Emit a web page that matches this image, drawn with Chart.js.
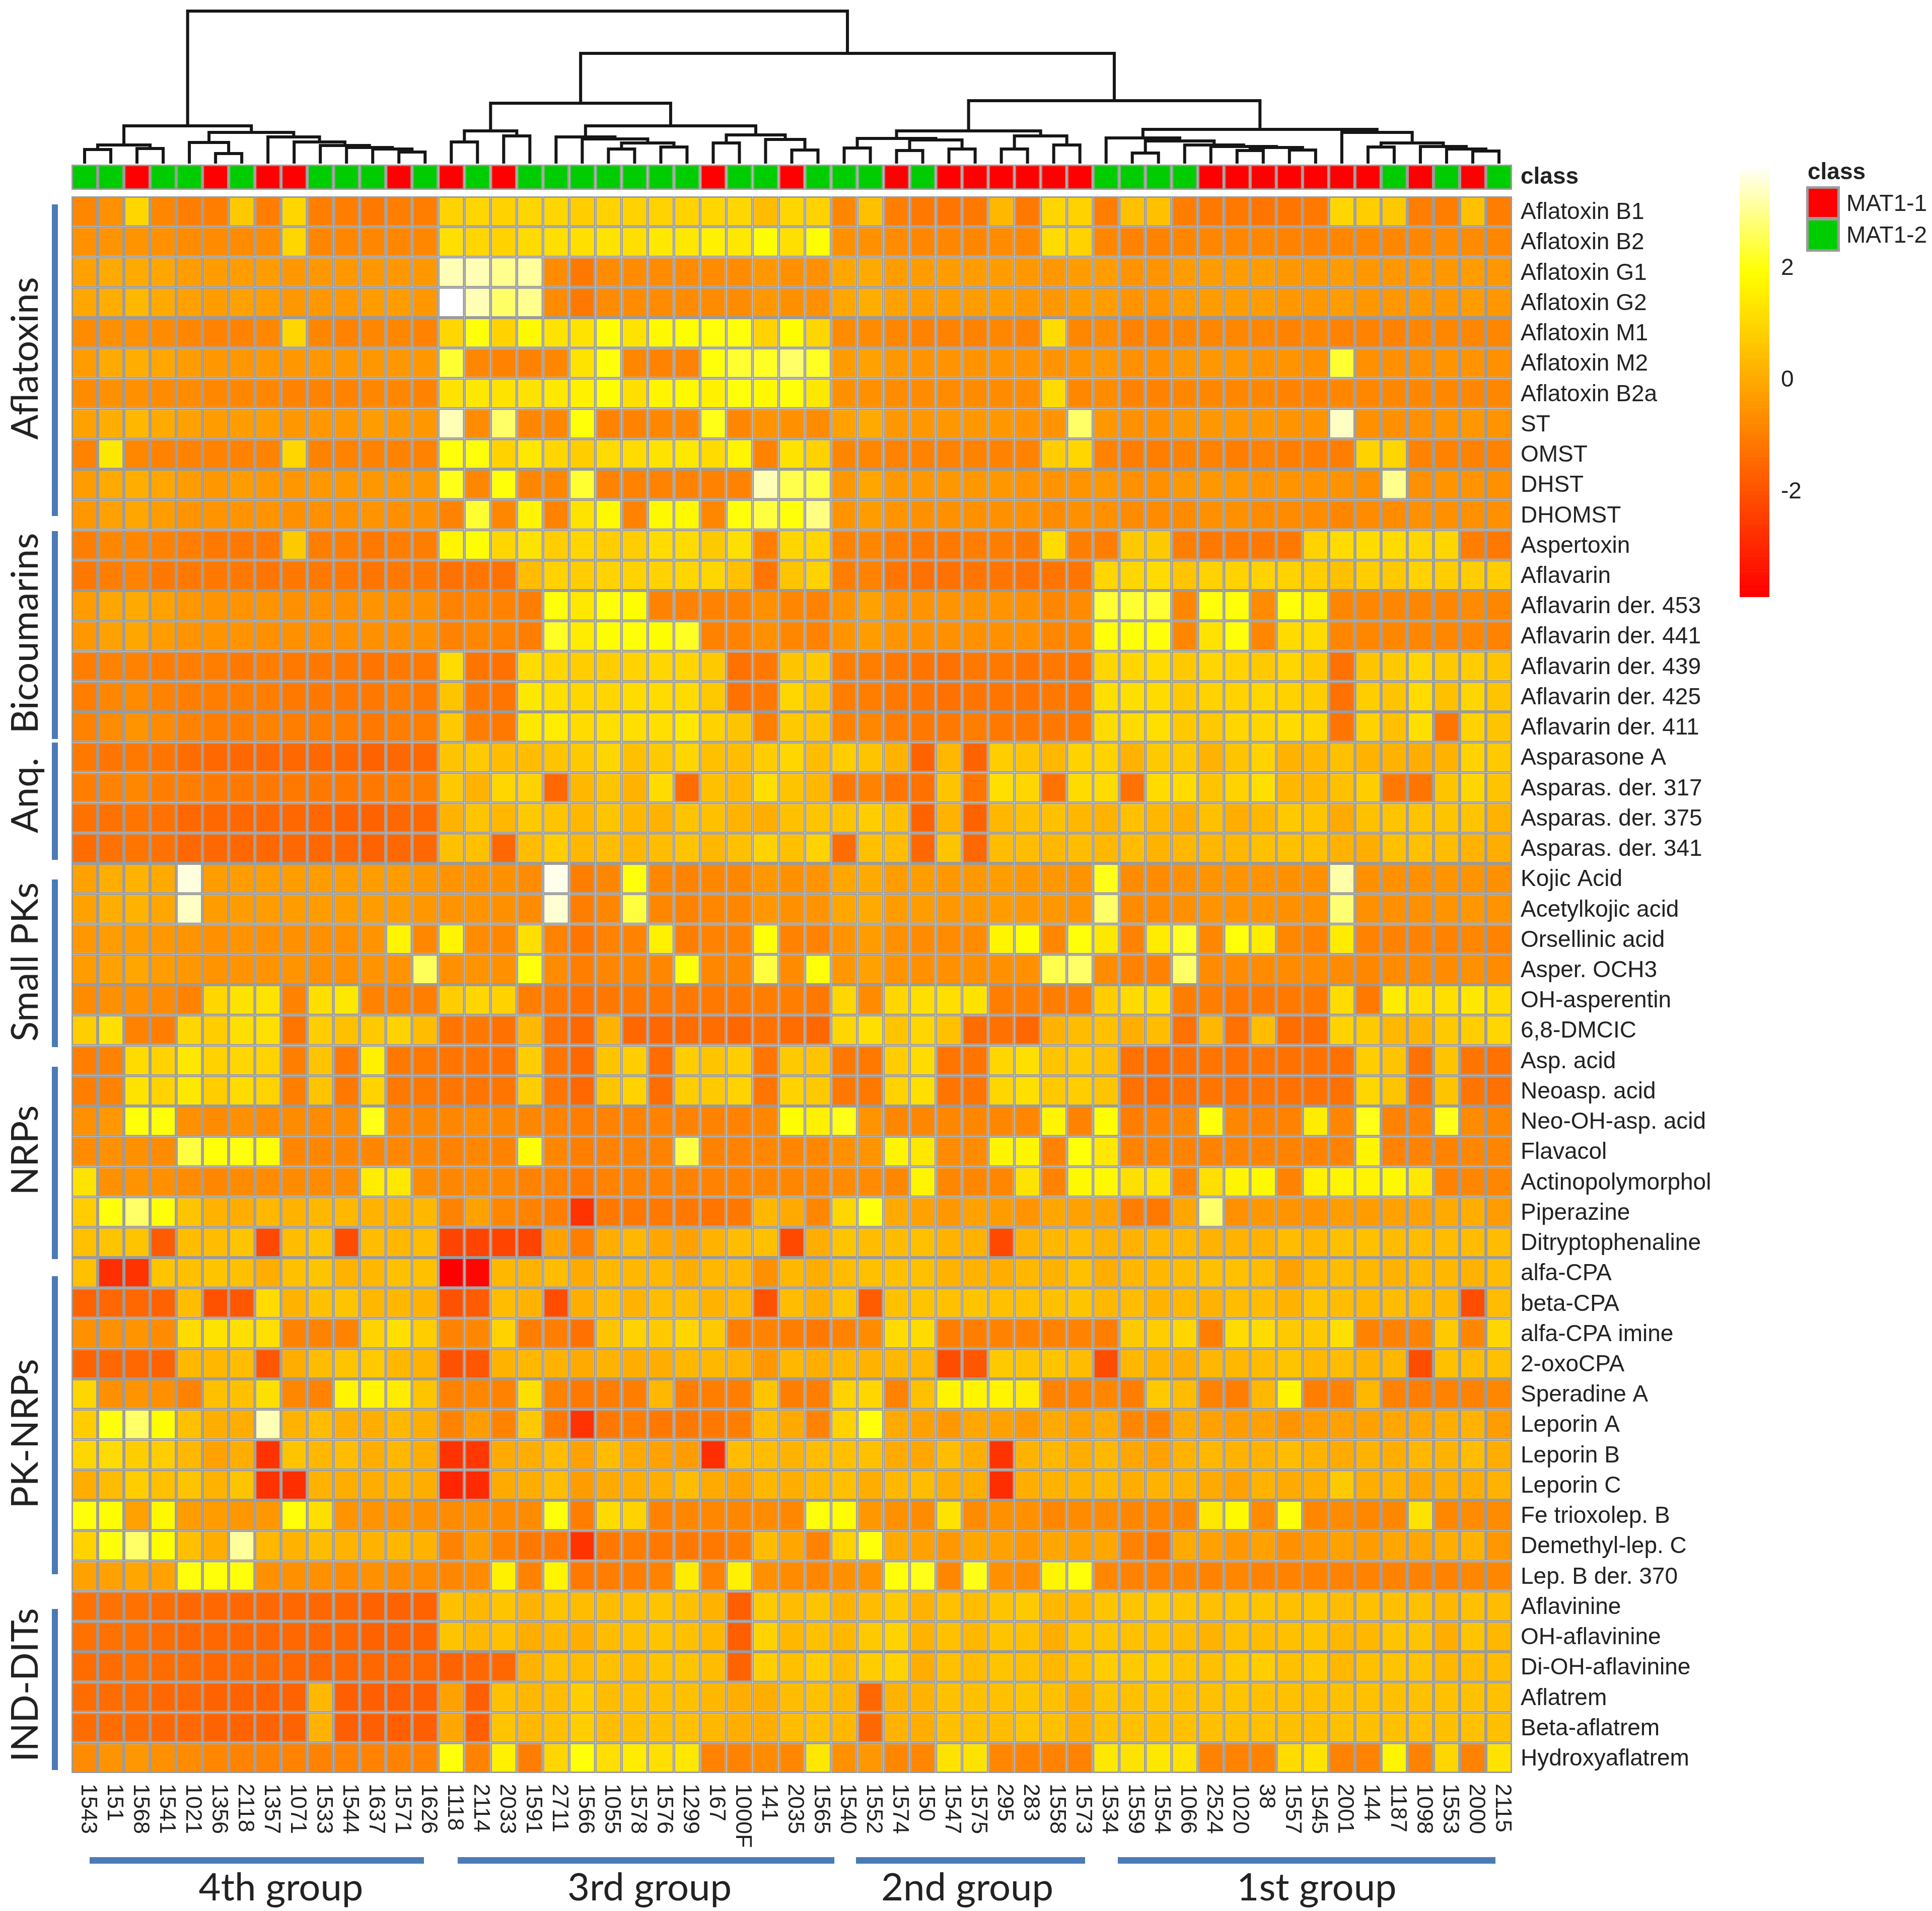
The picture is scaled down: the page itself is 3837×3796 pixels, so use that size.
<!DOCTYPE html>
<html>
<head>
<meta charset="utf-8">
<title>Metabolite heatmap</title>
<script src="https://cdn.jsdelivr.net/npm/chart.js@4"></script>
<style>
html, body { margin: 0; padding: 0; background: #fff; }
body { width: 3837px; height: 3796px; position: relative; overflow: hidden; font-family: "Liberation Sans", sans-serif; color: #222; }
canvas { position: absolute; }
.txt { position: absolute; white-space: nowrap; }
.box { position: absolute; box-sizing: border-box; }
</style>
</head>
<body>
<canvas id="dendro"></canvas>
<canvas id="classBar"></canvas>
<canvas id="heat"></canvas>
<canvas id="scaleBar"></canvas>
<script>
var colLabels = ['1543','151','1568','1541','1021','1356','2118','1357','1071','1533','1544','1637','1571','1626',
    '1118','2114','2033','1591','2711','1566','1055','1578','1576','1299','167','1000F','141','2035','1565',
    '1540','1552','1574','150','1547','1575','295','283','1558','1573',
    '1534','1559','1554','1066','2524','1020','38','1557','1545','2001','144','1187','1098','1553','2000','2115'];

var classes = [2,2,1,2,2,1,2,1,1,2,2,2,1,2, 1,2,1,2,2,2,2,2,2,2,1,2,2,1,2, 2,2,1,2,1,1,1,1,1,1, 2,2,2,2,1,1,1,1,1,1,1,2,1,2,1,2];
var classNames = ['MAT1-1','MAT1-2'];

var rowLabels = ['Aflatoxin B1','Aflatoxin B2','Aflatoxin G1','Aflatoxin G2','Aflatoxin M1','Aflatoxin M2','Aflatoxin B2a','ST','OMST','DHST','DHOMST',
    'Aspertoxin','Aflavarin','Aflavarin der. 453','Aflavarin der. 441','Aflavarin der. 439','Aflavarin der. 425','Aflavarin der. 411',
    'Asparasone A','Asparas. der. 317','Asparas. der. 375','Asparas. der. 341',
    'Kojic Acid','Acetylkojic acid','Orsellinic acid','Asper. OCH3','OH-asperentin','6,8-DMCIC',
    'Asp. acid','Neoasp. acid','Neo-OH-asp. acid','Flavacol','Actinopolymorphol','Piperazine','Ditryptophenaline',
    'alfa-CPA','beta-CPA','alfa-CPA imine','2-oxoCPA','Speradine A','Leporin A','Leporin B','Leporin C','Fe trioxolep. B','Demethyl-lep. C','Lep. B der. 370',
    'Aflavinine','OH-aflavinine','Di-OH-aflavinine','Aflatrem','Beta-aflatrem','Hydroxyaflatrem'];

var aflatoxinRows = [
    [-.8,-.6,1,-.8,-1,-1,.7,-1,1,-1,-1,-1.1,-1,-1,.9,1,.9,1, 1,.8,.9,.9,.9,.9,1,1,.4,1,.9,-.8,.5,-1,-1.1,-1.2,-1.1,.3,-1.1, 1,.9,-1,.5,.5,-1,-1.1,-1.1,-1.2,-1.2,-1.1,1,.8,.7,-1,-1,.5,-1],
    [-.6,-.5,-.5,-.6,-.7,-.7,-.7,-.7,1,-.8,-.8,-.8,-.8,-.8,1.2,1,.9,1.1, 1.2,1.2,1.3,1.2,1.4,1.4,1.6,1.4,1.9,1.2,1.9,-.6,-.6,-.7,-.8,-.8,-.8,-.7,-.8, 1.1,.9,-.8,-.9,-.9,-.8,-.8,-.8,-.8,-.9,-.9,-.8,-.8,-.8,-.8,-.7,-.7,-.8],
    [-.2,0,0,-.1,-.3,-.3,-.3,-.3,-.4,-.4,-.4,-.4,-.4,-.4,3.3,3.3,3,3.1, -.7,-1.1,-.7,-.7,-.7,-.7,-.7,-.7,-.4,-.6,-.6,-.1,0,-.3,-.3,-.3,-.3,-.3,-.4, -.4,-.3,-.3,-.5,-.5,-.3,-.3,-.3,-.3,-.4,-.4,-.3,-.4,-.4,-.4,-.4,-.3,-.4],
    [-.1,.1,.3,0,-.2,-.3,-.2,-.3,-.4,-.4,-.4,-.3,-.3,-.4,3.85,3.3,2.7,3, -.7,-1.1,-.7,-.7,-.7,-.7,-.7,-.7,-.4,-.6,-.6,-.1,.1,-.2,-.3,-.3,-.3,-.3,-.4, -.4,-.3,-.3,-.5,-.5,-.3,-.3,-.3,-.3,-.4,-.4,-.3,-.4,-.4,-.4,-.4,-.3,-.4],
    [-.7,-.6,-.6,-.7,-.8,-.9,-.9,-.8,1,-.8,-.9,-.8,-.8,-.9,1,2,.9,1.8, 1.3,1.3,1.9,1.3,1.8,1.9,2,2,.9,1.9,1,-.7,-.7,-.8,-.9,-.9,-.9,-.8,-.9, 1.1,-.8,-.7,-.9,-.9,-.8,-.8,-.8,-.8,-.9,-.8,-.9,-.9,-.9,-.8,-.8,-.8,-.8],
    [-.3,0,.1,-.1,-.3,-.4,-.4,-.4,-.4,-.4,-.4,-.4,-.4,-.4,2.3,-.8,-.9,-.9, -.8,1.3,2,-.8,-.9,-.9,2,2.3,2.2,2.7,2.2,-.3,-.2,-.4,-.5,-.5,-.5,-.5,-.5, -.5,-.5,-.4,-.6,-.6,-.4,-.4,-.4,-.5,-.5,-.6,2.3,-.6,-.6,-.6,-.5,-.5,-.6],
    [-.7,-.6,-.6,-.7,-.7,-.8,-.8,-.8,-.9,-.9,-.9,-.8,-.8,-.9,1.3,1.4,1.3,1.3, 1.4,1.6,1.9,1.2,1.7,1.8,1.6,2,1.8,2,1.4,-.6,-.6,-.7,-.7,-.7,-.7,-.7,-.7, 1.1,-.8,-.7,-.9,-.9,-.8,-.8,-.8,-.8,-.9,-.9,-.8,-.8,-.8,-.8,-.8,-.8,-.8],
    [-.2,.1,.3,0,-.2,-.3,-.3,-.3,-.4,-.4,-.4,-.3,-.4,-.4,3.3,-.7,2.7,-.8, -.8,2,-.9,-.9,-.8,-.8,2.1,-.8,-.5,-.6,-.7,-.2,0,-.4,-.4,-.4,-.4,-.4,-.5, -.5,2.7,-.4,-.6,-.6,-.4,-.4,-.4,-.4,-.5,-.5,3.4,-.6,-.6,-.6,-.5,-.4,-.5],
    [-.9,1.4,-.8,-.9,-.9,-.9,-.9,-.9,1,-.9,-.9,-.9,-.9,-.9,2,2,.9,1.4, 1,.8,1.1,1.1,1.3,1.4,1.1,1.7,-.9,1.3,.9,-.8,-.8,-.9,-.9,-.9,-.9,-.9,-.9, .8,1,-.9,-1,-1,-.9,-.9,-1,-.9,-1,-1,-1,.9,1,-.9,-.9,-.9,-.9],
    [-.3,0,.1,-.1,-.3,-.4,-.3,-.4,-.4,-.4,-.4,-.4,-.4,-.4,2.1,-.8,2,-.8, -.8,2.3,-.9,-.9,-.9,-.9,-.9,-.9,3.3,2.5,2.4,-.4,-.1,-.4,-.4,-.4,-.4,-.4,-.5, -.5,-.5,-.4,-.6,-.6,-.4,-.4,-.4,-.5,-.5,-.5,-.5,-.6,3,-.6,-.5,-.5,-.6],
    [-.4,-.2,-.1,-.3,-.5,-.5,-.5,-.5,-.6,-.6,-.6,-.5,-.6,-.6,-.9,2.3,-.8,1.7, -.9,1.3,1.8,-.9,1.8,1.8,-.8,2,2.4,2,2.9,-.5,-.3,-.5,-.6,-.6,-.6,-.6,-.6, -.7,-.6,-.6,-.7,-.7,-.7,-.6,-.6,-.7,-.7,-.7,-.8,-.7,-.7,-.6,-.6,-.6,-.6]
];

var bicoumarinRows = [
    [-1,-.8,-.8,-.9,-1,-1.1,-1.1,-1.1,.7,-1,-1,-1.1,-1,-1,1.7,1.9,1,1.3, .8,1,.8,.8,1.1,1.1,.7,1.2,-1,1,1,-.9,-.8,-1,-1.1,-1.1,-1,-1,-1.1, 1.1,-1,-1,.7,.7,-1,-1.1,-1.1,-1.1,-1.1,.9,1.1,1.1,1.1,1,1,-1,-1.1],
    [-1.1,-1,-.9,-1.1,-1.1,-1.1,-1.1,-1.2,-1.1,-1.1,-1.1,-1.2,-1.1,-1.1,-1.3,-1.2,-1.3,.4, .9,.8,.9,.9,.9,1,1,.5,-1.2,.6,.9,-1,-.9,-1.2,-1.3,-1.3,-1.2,-1.2,-1.3, -1.2,-1.2,1,1,1.1,.6,.9,.9,.9,.9,.8,.5,.8,.7,.9,.8,.8,.8],
    [-.3,-.1,0,-.2,-.4,-.5,-.5,-.5,-.6,-.6,-.6,-.5,-.6,-.6,-.9,-.8,-.9,-1, 2,1.4,2,1.9,-.9,-.9,-.9,-.9,-.6,-.8,-.9,-.5,-.2,-.5,-.5,-.5,-.5,-.5,-.6, -.8,-.7,2.3,2.3,2.3,-.8,2,2,-.7,2,1.6,-.8,-.8,-.8,-.8,-.8,-.7,-.8],
    [-.4,-.2,-.1,-.3,-.5,-.5,-.5,-.6,-.6,-.6,-.6,-.6,-.6,-.6,-.9,-.8,-.9,-1, 2.2,1.5,1.9,2,1.9,2.2,-.9,-.9,-.6,-.8,-.9,-.5,-.3,-.5,-.6,-.6,-.6,-.6,-.6, -.8,-.8,2,2,2,-.8,1.3,2,-.8,1.1,1.1,-.8,-.8,-.8,-.8,-.8,-.8,-.9],
    [-1,-.9,-.9,-1,-1,-1,-1.1,-1,-1.1,-1.1,-1.1,-1.2,-1.1,-1.1,1.1,-1.2,-1.3,1.1, 1,.8,.8,.9,1,1,.7,-1.3,-1.1,.6,.7,-1,-1,-1.1,-1.2,-1.3,-1.1,-1.1,-1.2, -1.1,-1.2,1,1,1.1,.7,1,.9,.7,1,.7,-1.3,.6,.7,1,.7,.8,.6],
    [-1,-.8,-.7,-.9,-1,-1,-1,-1,-1.1,-1.1,-1.1,-1.1,-1,-1.1,.6,-1.1,-1.2,1.4, 1.2,1,1,1.1,1.1,1.1,.7,-1.3,-1.1,1,.6,-1,-1,-1.1,-1.2,-1.3,-1.2,-1.2,-1.2, -1.1,-1.2,1.2,1.2,1.1,.7,.9,.9,1,.9,.8,-1.3,.8,.6,1.1,.5,1,.6],
    [-.9,-.7,-.5,-.7,-.9,-1,-1,-.9,-1,-1,-1,-1.1,-1,-1,.7,-1,-1.1,1.4, 1.5,1.1,1.2,1.2,1.2,1.4,.9,.6,-1,.7,.6,-.9,-.8,-1,-1.1,-1.1,-1,-1.1,-1.1, -1.1,-1.1,1.1,1.1,1.2,.7,.7,1,1,1.1,1,-1.2,.9,.5,1.2,-1.2,.9,.6]
];

var anthraquinoneRows = [
    [-1.1,-1.2,-1.1,-1.2,-1.4,-1.5,-1.5,-1.5,-1.5,-1.5,-1.5,-1.6,-1.5,-1.5,.6,.7,.4,.4, .6,.7,1,.5,.7,1,.5,.4,.8,1,.4,.8,.6,.2,-1.6,.3,-1.6,.8,.6, .3,.9,.9,.2,.7,.7,.2,.6,.9,.2,.3,.5,.2,.2,.1,.2,.9,.7],
    [-1,-.9,-.8,-1,-1,-1.1,-1.1,-1.1,-1.1,-1.1,-1.1,-1.1,-1,-1,.7,.2,1,.9, -1.5,.3,.6,.2,1.1,-1.4,.5,.3,1.2,.6,.3,-1.1,-.9,-1.2,-1.3,.6,-1.2,1.2,1, -1.3,1.1,1.1,-1.3,1.1,1.1,.6,.9,1.2,.3,.3,.5,.8,-1.1,-1.2,.6,1,.6],
    [-1.3,-1.3,-1.2,-1.3,-1.5,-1.5,-1.5,-1.5,-1.5,-1.5,-1.6,-1.6,-1.5,-1.5,.2,.6,.3,.7, .6,.3,.6,.3,.2,.6,.5,.2,.1,.5,.6,.6,.8,.5,-1.6,.2,-1.6,.3,.5, .5,.3,.2,.5,.3,.1,.5,.1,.3,.7,.6,0,.5,.6,.6,.6,.6,.2],
    [-1.4,-1.3,-1.2,-1.3,-1.5,-1.5,-1.5,-1.5,-1.5,-1.5,-1.5,-1.6,-1.5,-1.5,.5,.5,-1.5,.4, .8,.3,.4,.3,.4,.6,.3,.5,.9,.5,.9,-1.4,.5,.4,-1.5,.6,-1.5,.4,.4, .3,.4,.3,.4,.2,.3,.3,.3,.5,.5,.5,.2,.1,.5,.5,.4,.2,.1]
];

var smallPkRows = [
    [-.2,.1,.2,0,3.6,-.3,-.3,-.3,-.3,-.3,-.3,-.3,-.3,-.4,-.5,-.5,-.6,-.7, 3.7,-1,-.8,2,-.8,-.9,-.8,-.8,-.4,-.6,-.5,-.1,0,-.3,-.3,-.4,-.4,-.3,-.4, -.4,-.5,2.1,-.7,-.7,-.6,-.5,-.5,-.5,-.6,-.6,3.2,-.6,-.6,-.6,-.5,-.5,-.6],
    [-.2,.1,.2,-.1,3.4,-.3,-.3,-.3,-.3,-.3,-.3,-.3,-.3,-.4,-.5,-.5,-.6,-.7, 3.5,-1,-.8,2.4,-.8,-.9,-.8,-.8,-.4,-.6,-.5,-.1,0,-.3,-.3,-.4,-.4,-.3,-.4, -.4,-.5,2.7,-.7,-.7,-.6,-.5,-.5,-.5,-.6,-.6,2.8,-.6,-.6,-.6,-.5,-.4,-.5],
    [-.4,-.3,-.3,-.4,-.5,-.6,-.5,-.6,-.6,-.6,-.6,-.5,1.7,-.8,1.7,-.7,-.8,1.2, -.9,-1.2,-.9,-.9,1.6,-1,-.9,-.9,2,-.9,-.9,-.5,-.3,-.6,-.7,-.7,-.7,1.7,1.9, -.8,2,1.4,-.9,1.5,2.2,-.8,2,1.5,-.8,-.9,1.5,-.9,-.9,-.9,-.9,-.8,-.9],
    [-.3,-.2,-.1,-.3,-.4,-.5,-.5,-.5,-.5,-.6,-.6,-.5,-.5,2.6,-.6,-.5,-.6,2, -.7,-1,-.8,-.8,-.8,2,-.8,-.8,2.4,-.7,2,-.4,-.2,-.5,-.6,-.6,-.6,-.6,-.6, 2.5,2.7,-.7,-.9,-.9,2.7,-.7,-.7,-.7,-.7,-.7,-.7,-.8,-.7,-.7,-.7,-.6,-.7],
    [-.7,-.6,-.6,-.7,-.9,1,1.3,1.3,-.9,1.2,1.4,-.9,-.9,-1,.8,1,.9,-1, -1.1,-1.3,-1.1,-1.1,-1.1,-1.1,-1.1,-1.1,-1,-1,-1.1,1,-.7,1,1.2,1.2,1.3,-1,-1, -1,-1,.8,1.1,1.1,-1,-1,-1.1,-1.1,-1.1,-1.1,1.1,-1.1,1.5,1.2,1.2,1.4,1.1],
    [.8,1.2,-.9,-1,1,.8,1.2,1.2,-1.2,.8,.5,.7,.9,.4,-1.2,-1.1,-1.3,.3, -1.3,-1.5,.2,-1.5,-1.5,-1.4,-1.4,-1.5,-1.3,-1.4,-1.5,1,1.2,.6,1,.5,-1.4,-1.3,-1.5, .2,.4,.5,.1,.4,-1.3,.3,-1.3,.4,-1.4,-1.4,.9,.7,.3,.2,.7,.8,1]
];

var nrpRows = [
    [-1,-.9,1.1,.9,1.4,.9,1,.9,-1,.6,-1.1,1.6,-1.1,-1.1,-1.2,-1.2,-1.3,.8, -1.2,-1.5,.6,.8,-1.4,.8,.6,.8,-1.2,.7,.6,-1.1,-1.1,.8,1.1,-1.2,-1.2,1,1.2, .6,.7,.5,-1.3,-1.4,-1.3,-1.2,-1.3,-1.2,-1.3,-1.3,-1.3,.8,.6,-1.3,.6,-1.2,-1.3],
    [-1,-.9,1.3,.9,1.4,.8,1.1,.9,-1,.6,-1.1,.9,-1.1,-1.1,-1.2,-1.2,-1.2,.8, -1.2,-1.5,.6,.9,-1.4,.8,.7,.9,-1.2,.9,.7,-1.1,-1.1,.9,1.2,-1.2,-1.2,1,1.2, .7,.8,.6,-1.3,-1.4,-1.3,-1.2,-1.3,-1.2,-1.3,-1.3,-1.3,1,.6,-1.3,.6,-1.2,-1.3],
    [-.6,-.4,2,2,-.6,-.7,-.6,-.7,-.7,-.7,-.7,2.1,-.8,-.8,-.8,-.7,-.8,-.8, -.9,-1,-.9,-.9,-.9,-.9,-.9,-.9,-.8,1.9,1.6,2.1,-.5,-.8,-.8,-.8,-.8,-.8,-.8, 1.7,-.9,1.9,-1,-.9,-.8,2,-.8,-.9,-.9,1.5,-.8,2.1,-.9,-.9,2.1,-.7,-.8],
    [-.7,-.6,-.6,-.7,2.4,2,2,1.9,-.8,-.8,-.8,-.8,-.8,-.8,-.9,-.8,-.9,1.9, -.8,-1,-.9,-.9,-.9,2.4,-.9,-.9,-.8,-.8,-.8,-.6,-.5,1.7,1.4,-.7,-.7,1.7,1.7, -.9,2,1.4,-.9,-.9,-.9,-.9,-.9,-.9,-.9,-.9,-.9,1.7,-.9,-.9,-.9,-.8,-.8],
    [1.3,-.6,-.5,-.6,-.7,-.8,-.7,-.7,-.7,-.7,-.7,1.5,1.4,-.7,-.8,-.7,-.8,-.9, -.9,-1.1,-.9,-.9,-.9,-.9,-.9,-.9,-.8,-.8,-.8,-.7,-.7,-.8,1.7,-.8,-.8,-.8,1.3, -.9,1.8,1.8,1.2,1.3,-.9,1.2,1.7,1.8,-.9,1.6,1.7,1.7,1.8,1.4,-.9,-.8,-.8],
    [.8,2,2.7,2,.6,.2,.1,.3,.2,.3,.3,.2,.2,.3,-.9,-.2,-.8,-.9, -1,-2.7,-1.1,-1.1,-1.1,-1.1,-1.2,-1.1,.3,0,-.8,1,2,0,-.2,-.4,-.2,-.3,-.5, -.1,-.2,-.2,-1,-1.1,-.1,2.7,-.6,-.4,-.5,-.5,-.3,-.3,-.2,-.2,0,.1,-.3],
    [.5,.6,.6,-1.8,.4,.4,.6,-2.2,.4,.6,-2.1,.4,.3,.4,-2.3,-2.3,-2.3,-2.3, -.2,-1,.1,.3,-.1,-.2,.2,.4,.5,-2.2,.1,.6,.4,.4,.5,.2,.2,-2.2,.2, .3,.4,.2,.2,.3,.3,.2,.2,.2,.4,.3,.5,.5,.4,.4,.4,.4,.4]
];

var pkNrpRows = [
    [.5,-2.8,-2.7,.6,.5,.6,.5,.1,.5,.6,.2,.3,.5,.5,-3.85,-3.7,.3,.2, .4,0,.3,.3,.3,.1,.3,.3,-.6,.3,.1,.4,.5,.5,.5,.2,.2,.1,.3, .2,.5,.1,.3,.3,.4,.5,.5,.4,-.2,.3,.4,.3,.2,.3,.3,.2,.4],
    [-1.6,-1.5,-1.5,-1.6,.4,-2,-1.9,1.1,.2,.5,.6,.3,.3,.2,-2,-1.8,.4,.2, -2.1,.1,.4,.2,.4,.4,.2,.3,-2,.4,.1,.6,-1.8,.5,.6,.5,.6,.5,.5, .5,.6,.3,.4,.2,.3,.2,.4,.4,.2,.6,.4,.3,.4,.3,.3,-2.1,.4],
    [-.6,-.6,-.5,-.7,1.1,1.3,1.2,1.2,-.9,-.9,-.9,.9,1.2,.8,-.9,-.8,.9,-1, -1,-1.3,.6,.9,.7,1,.7,-1,-.9,-1,-1.1,-.9,-.7,1.1,1.1,-1,-1,-.9,-.9, -.9,-.9,-1,.7,.8,1,-1,1.1,1.1,.7,.7,1.2,-.9,-.9,-.9,.7,-.8,1],
    [-1.6,-1.5,-1.5,-1.6,.3,.3,.4,-1.9,.1,.4,.6,.7,.3,.2,-2,-1.9,.2,.3, .2,0,.2,.1,.1,.3,.3,.2,-.4,.3,.1,.3,.2,.3,.3,-2.1,-1.9,.7,.6, .6,.4,-2.1,.3,.2,.1,.3,.3,.4,.6,.3,.4,.2,.3,-2.1,.5,.4,.5],
    [1,-.6,-.5,-.6,-.9,.5,.5,1.2,-.8,-.9,1.7,1.7,1.5,.6,-.9,-.8,-.9,1.2, -.9,-1.1,-1,-1,.3,-1,-1,-1,.6,-1,-1,.9,1,-.9,.5,1.7,1.7,1.7,1.5, -.9,-.9,-.8,-1,.7,.4,-.9,-1,.3,1.7,-1,-.9,.3,-.9,-1,-.9,-.9,-.8],
    [.8,2,2.7,1.9,.5,.1,.1,3.3,.2,.4,.1,.1,.3,.1,-.9,-.3,-.9,.7, -1.1,-2.7,-1.1,-1,-1.1,-1.1,-1.1,-1,.4,0,-.9,.9,2,0,-.2,-.4,-.1,-.2,-.4, 0,-.2,0,-.8,-.9,0,-.2,-.3,-.2,-.5,-.3,-.2,-.2,-.1,-.1,.1,.2,-.3],
    [1,1.1,.8,.8,.3,-.2,.1,-2.7,.6,.3,.4,.1,.3,.1,-2.7,-2.6,0,.1, .4,-.2,.4,0,-.2,-.3,-2.8,.4,.4,.2,.4,.5,.5,0,-.1,.4,.1,-2.7,.2, .3,.1,.3,-.1,-.2,.2,.3,.2,.2,.4,.2,0,.2,.1,.3,.2,.4,.1],
    [.1,.4,.8,.5,.6,.2,.6,-2.7,-2.8,.2,.1,.1,.2,.1,-3,-2.9,0,.1, .4,-.3,0,.1,.1,.4,0,-.2,.3,.1,.3,.5,.1,.3,.4,.1,.1,-2.8,.1, .2,.2,.3,.1,.2,.2,0,-.2,.2,0,.1,.7,.1,.2,-.1,.1,.1,.2],
    [2,1.9,-.2,1.8,-.3,-.3,-.4,-.4,2,1.2,-.5,-.5,-.5,-.6,-.7,-.6,-.7,-.7, 2,-1,1.1,.9,-.9,-.8,-.8,-.8,-.7,-.8,2,1.9,-.4,-.6,-.7,1.3,-.7,-.6,-.6, -.8,-.7,-.7,-.8,-.8,-.8,1.4,1.8,-.7,2,-.8,-.7,-.8,-.8,1.3,-.8,-.7,-.7],
    [.9,2,2.7,1.9,.5,.1,3.1,.3,.2,.4,.2,.2,.3,.2,-.9,-.3,-.9,-1.1, -1.1,-2.7,-1.1,-1,-1.1,-1.1,-1.1,-1,.4,-.1,-.9,.9,2,0,-.2,-.4,-.1,-.2,-.4, -.1,-.2,-.1,-.9,-1.1,0,-.2,-.4,-.2,-.6,-.4,-.2,-.3,-.1,-.1,.1,.2,-.4],
    [-.2,-.2,-.1,-.2,2,2,2,-.6,-.6,-.6,-.7,-.6,-.7,-.7,-.8,-.7,1.6,-.9, 1.7,-1.1,-1,-1,-.9,1.5,-.9,1.6,-.6,-.7,-.8,-.6,-.5,2,2.1,-.8,2.1,-.6,-.7, 1.7,2,-.8,-.9,-.9,-.8,-.9,-.8,-.9,-.9,-.9,-.9,-.9,-.9,-.9,-.9,-.8,-.8]
];

var indDitRows = [
    [-1.3,-1.3,-1.3,-1.4,-1.5,-1.5,-1.5,-1.5,-1.5,-1.5,-1.5,-1.6,-1.6,-1.6,.5,.3,.6,.2, .6,.4,.4,.5,.6,.5,.2,-1.7,.7,.4,.6,.2,.4,.7,.2,.5,.4,.6,.7, .3,.3,.6,.6,.7,.6,.5,.6,.6,.5,.6,.4,.5,.5,.5,.3,.5,.4],
    [-1.3,-1.3,-1.3,-1.4,-1.5,-1.5,-1.5,-1.5,-1.5,-1.5,-1.5,-1.6,-1.6,-1.6,.6,.3,.5,.1, .3,.1,.4,.5,.6,.5,.3,-1.7,.9,.3,.5,.3,.7,.9,.2,.5,.3,.6,.5, .1,.6,.6,.5,.5,.4,.2,.5,.4,.5,.6,.3,.3,.6,.6,.1,.6,.3],
    [-1.4,-1.4,-1.3,-1.4,-1.4,-1.5,-1.4,-1.4,-1.5,-1.5,-1.5,-1.5,-1.5,-1.5,-1.6,-1.5,-1.5,.2, .5,.4,.5,.4,.6,.6,.4,-1.6,.8,.5,.8,.4,.8,.9,.1,.5,.4,.6,.5, .3,.5,.8,.7,.8,.6,.5,.7,.8,.5,.7,.3,.5,.6,.6,.3,.4,.4],
    [-1.4,-1.4,-1.4,-1.5,-1.5,-1.6,-1.6,-1.6,-1.6,.3,-1.7,-1.7,-1.7,-1.7,-.2,-1.7,.5,.3, .4,.8,.4,.5,.5,.5,.3,.1,.1,.4,.5,.3,-1.5,.2,.2,.5,.5,.5,.6, .5,.1,.6,.5,.6,.5,.5,.6,.5,.5,.5,.5,.5,.5,.5,.5,.5,.5],
    [-1.4,-1.4,-1.4,-1.5,-1.5,-1.6,-1.6,-1.6,-1.6,.2,-1.7,-1.7,-1.7,-1.7,-.1,-1.7,.6,.3, .5,.8,.4,.5,.5,.5,.3,.1,.1,.4,.5,.3,-1.5,.2,.1,.5,.5,.4,.6, .5,.1,.5,.5,.5,.5,.5,.5,.5,.5,.5,.5,.5,.5,.5,.5,.5,.5],
    [-.7,-.5,-.4,-.6,-.7,-.8,-.9,-.9,-.9,-.9,-.9,-.9,-.9,-.9,2,-.9,1.6,-1, 1,2,1.2,1.5,1.2,1.4,-.9,-.9,-.7,-.8,1.4,-.6,-.4,-.8,-.8,1.3,1.3,-.8,-.9, -.9,-.9,1.4,1.3,1.4,1.3,-.9,-.9,-.9,1.1,1.3,-.9,-.9,1.7,-.9,1,-.9,1.3]
];

var values = [].concat(aflatoxinRows, bicoumarinRows, anthraquinoneRows, smallPkRows, nrpRows, pkNrpRows, indDitRows);

// dendrogram as [height, left, right], plain numbers are column indexes
var group4Tree = [75, [37, [28, 0, 1], [30, 2, 3]], [62, [42, 4, [20, 5, 6]], [53, 7, [43, 8, [36, 9, [32, 10, [29, 11, [23, 12, 13]]]]]]]];
var group3Tree = [120, [65, [43, 14, 15], [55, 16, 17]], [75, [53, 18, [49, 19, [41, [29, 20, 21], [33, 22, 23]]]], [57, [41, 24, 25], [48, 26, [27, 27, 28]]]]];
var group2Tree = [65, [50, [31, 29, 30], [47, [26, 31, 32], [29, 33, 34]]], [55, [29, 35, 36], [37, 37, 38]]];
var group1LeftTree = [51, 39, [45, [21, 40, 41], [37, 42, [34, 43, [32, [26, 44, 45], [27, 46, 47]]]]]];
var group1RightTree = [62, 48, [41, [33, 49, 50], [34, 51, [29, 52, [25, 53, 54]]]]];
var rootTree = [303, group4Tree, [219, group3Tree, [125, group2Tree, [68, group1LeftTree, group1RightTree]]]];

var scaleTicks = [-2, 0, 2];
var scaleMin = -3.88;
var scaleMax = 3.81;

var sideLabels = ['Aflatoxins', 'Bicoumarins', 'Anq.', 'Small PKs', 'NRPs', 'PK-NRPs', 'IND-DITs'];
var groupLabels = ['4th group', '3rd group', '2nd group', '1st group'];

// layout, in page pixels
var GRID = '#9b9b9b';
var BLUE = '#4a7bb7';
var CELLS_X = 142, CELLS_W = 2861, CELLS_Y = 390, CELLS_H = 3132;
var sideBars = [[406, 1025], [1055, 1468], [1475, 1708], [1747, 2080], [2119, 2501], [2535, 3127], [3196, 3516]];
var sideTextY = [712, 1258, 1580, 1911, 2285, 2848, 3347];
var groupBars = [[178, 842], [909, 1657], [1700, 2155], [2220, 2970]];
var groupTextX = [558, 1290, 1921, 2615];

// heat.colors style ramp: red to yellow, then yellow to white
function heatColor(v) {
    var t = (v + 3.85) / 7.7;
    t = Math.max(0, Math.min(1, t));
    if (t < 0.75) {
        return 'hsl(' + (80 * t) + ',100%,50%)';
    }
    var blue = Math.round(255 * (t - 0.75) / 0.25);
    return 'rgb(255,255,' + blue + ')';
}

function placeCanvas(id, x, y, w, h) {
    var c = document.getElementById(id);
    c.width = w;
    c.height = h;
    c.style.left = x + 'px';
    c.style.top = y + 'px';
    c.style.width = w + 'px';
    c.style.height = h + 'px';
    return c.getContext('2d');
}

function addBox(x, y, w, h, color, border) {
    var d = document.createElement('div');
    d.className = 'box';
    d.style.cssText = 'left:' + x + 'px;top:' + y + 'px;width:' + w + 'px;height:' + h + 'px;background:' + color + ';' + (border ? 'border:' + border : '');
    document.body.appendChild(d);
}

function addText(str, x, y, size, family, opts) {
    opts = opts || {};
    var d = document.createElement('div');
    d.className = 'txt';
    d.textContent = str;
    var rot = opts.rotate ? ' rotate(' + opts.rotate + 'deg)' : '';
    var shift = opts.left ? 'translate(0,-50%)' : 'translate(-50%,-50%)';
    d.style.cssText = 'left:' + x + 'px;top:' + y + 'px;font-size:' + size + 'px;font-family:' + family + ';font-weight:' + (opts.bold ? 'bold' : 'normal') + ';transform:' + shift + rot + ';color:#222';
    document.body.appendChild(d);
}

var baseOptions = {
    responsive: false,
    animation: false,
    devicePixelRatio: 1,
    plugins: { legend: { display: false }, tooltip: { enabled: false } }
};

function opts(extra) {
    return Object.assign({}, baseOptions, extra);
}

// a side axis of fixed width that does not push the plot area around
function fixAxis(width) {
    return function(s) {
        s.width = width;
        s.paddingTop = 0;
        s.paddingBottom = 0;
    };
}

// heatmap, one dataset of floating bars per metabolite
var colTickPlugin = {
    id: 'colTicks',
    afterDraw: function(chart) {
        var ctx = chart.ctx;
        var xs = chart.scales.x;
        ctx.save();
        ctx.font = '45px "Liberation Sans"';
        ctx.fillStyle = '#222';
        ctx.textAlign = 'left';
        ctx.textBaseline = 'middle';
        for (var i = 0; i < colLabels.length; i++) {
            ctx.save();
            ctx.translate(xs.getPixelForTick(i) + 6, chart.chartArea.bottom + 21);
            ctx.rotate(Math.PI / 2);
            ctx.fillText(colLabels[i], 0, 0);
            ctx.restore();
        }
        ctx.restore();
    }
};

var heatDatasets = values.map(function(row, r) {
    return {
        label: rowLabels[r],
        data: row.map(function() { return [r, r + 1]; }),
        backgroundColor: row.map(heatColor),
        borderColor: GRID,
        borderWidth: 3,
        borderSkipped: false,
        inflateAmount: 0,
        grouped: false,
        barPercentage: 1,
        categoryPercentage: 1
    };
});

new Chart(placeCanvas('heat', CELLS_X, CELLS_Y, CELLS_W + 447, CELLS_H + 170), {
    type: 'bar',
    data: { labels: colLabels, datasets: heatDatasets },
    plugins: [colTickPlugin],
    options: opts({
        layout: { padding: { bottom: 170 } },
        scales: {
            x: { display: false },
            y: {
                type: 'linear',
                position: 'right',
                reverse: true,
                min: 0,
                max: rowLabels.length,
                grid: { display: false, drawTicks: false },
                border: { display: false },
                afterFit: fixAxis(447),
                afterBuildTicks: function(s) {
                    // labels sit a touch below the cell centre in the original
                    s.ticks = rowLabels.map(function(l, i) { return { value: i + 0.54 }; });
                },
                ticks: {
                    autoSkip: false,
                    padding: 17,
                    color: '#222',
                    font: { family: 'Liberation Sans', size: 46 },
                    callback: function(v) { return rowLabels[Math.floor(v)]; }
                }
            }
        }
    })
});

// class annotation strip
new Chart(placeCanvas('classBar', CELLS_X, 327, CELLS_W + 200, 50), {
    type: 'bar',
    data: {
        labels: colLabels,
        datasets: [{
            data: classes.map(function() { return [0, 1]; }),
            backgroundColor: classes.map(function(c) { return c === 1 ? '#ff0000' : '#00cd00'; }),
            borderColor: GRID,
            borderWidth: 3,
            borderSkipped: false,
            inflateAmount: 0,
            barPercentage: 1,
            categoryPercentage: 1
        }]
    },
    options: opts({
        scales: {
            x: { display: false },
            y: {
                type: 'linear',
                position: 'right',
                min: 0,
                max: 1,
                grid: { display: false, drawTicks: false },
                border: { display: false },
                afterFit: fixAxis(200),
                afterBuildTicks: function(s) { s.ticks = [{ value: 0.5 }]; },
                ticks: {
                    padding: 17,
                    color: '#222',
                    font: { family: 'Liberation Sans', size: 46, weight: 'bold' },
                    callback: function() { return 'class'; }
                }
            }
        }
    })
});

// dendrogram, each merge is one line dataset
var dendroDatasets = [];
function walkTree(node) {
    if (typeof node === 'number') {
        return { x: node, h: 0 };
    }
    var a = walkTree(node[1]);
    var b = walkTree(node[2]);
    dendroDatasets.push({
        data: [{ x: a.x, y: a.h }, { x: a.x, y: node[0] }, { x: b.x, y: node[0] }, { x: b.x, y: b.h }],
        showLine: true,
        pointRadius: 0,
        borderColor: '#161616',
        borderWidth: 6,
        borderJoinStyle: 'miter',
        tension: 0
    });
    return { x: (a.x + b.x) / 2, h: node[0] };
}
walkTree(rootTree);

new Chart(placeCanvas('dendro', CELLS_X, 15, CELLS_W, 310), {
    type: 'scatter',
    data: { datasets: dendroDatasets },
    options: opts({
        scales: {
            x: { display: false, type: 'linear', min: -0.5, max: colLabels.length - 0.5 },
            y: { display: false, min: 0, max: 310 }
        }
    })
});

// colour scale, a stack of thin floating bars
var scaleDatasets = [];
var SCALE_STEPS = 220;
for (var i = 0; i < SCALE_STEPS; i++) {
    var lo = scaleMin + (scaleMax - scaleMin) * i / SCALE_STEPS;
    var hi = scaleMin + (scaleMax - scaleMin) * (i + 1) / SCALE_STEPS;
    scaleDatasets.push({
        data: [[lo, hi]],
        backgroundColor: heatColor((lo + hi) / 2),
        borderWidth: 0,
        grouped: false,
        barPercentage: 1,
        categoryPercentage: 1
    });
}

new Chart(placeCanvas('scaleBar', 3455, 332, 59 + 120, 854), {
    type: 'bar',
    data: { labels: ['scale'], datasets: scaleDatasets },
    options: opts({
        scales: {
            x: { display: false },
            y: {
                type: 'linear',
                position: 'right',
                min: scaleMin,
                max: scaleMax,
                grid: { display: false, drawTicks: false },
                border: { display: false },
                afterFit: fixAxis(120),
                afterBuildTicks: function(s) {
                    s.ticks = scaleTicks.map(function(v) { return { value: v }; });
                },
                ticks: {
                    padding: 23,
                    color: '#222',
                    font: { family: 'Liberation Sans', size: 46 },
                    callback: function(v) { return String(v); }
                }
            }
        }
    })
});

// class legend
addText('class', 3590, 340, 46, '"Liberation Sans"', { left: true, bold: true });
addBox(3587, 370, 67, 66, '#ff0000', '5px solid ' + GRID);
addBox(3587, 433, 67, 67, '#00cd00', '5px solid ' + GRID);
addText(classNames[0], 3667, 403, 46, '"Liberation Sans"', { left: true });
addText(classNames[1], 3667, 466, 46, '"Liberation Sans"', { left: true });

// hand annotations on the left and under the map
sideLabels.forEach(function(label, i) {
    addBox(103, sideBars[i][0], 12, sideBars[i][1] - sideBars[i][0], BLUE);
    addText(label, 46, sideTextY[i], 74, 'Lato', { rotate: -90 });
});
groupLabels.forEach(function(label, i) {
    addBox(groupBars[i][0], 3689, groupBars[i][1] - groupBars[i][0], 13, BLUE);
    addText(label, groupTextX[i], 3745, 76, 'Lato');
});
</script>
</body>
</html>
